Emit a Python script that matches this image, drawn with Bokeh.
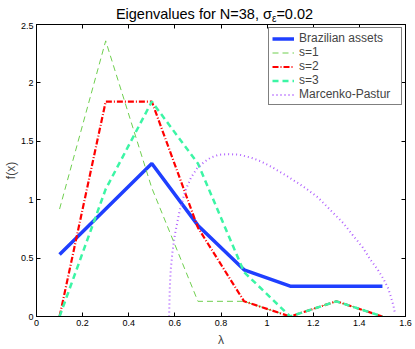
from bokeh.plotting import figure
from bokeh.models import Range1d, LinearAxis, FixedTicker, Legend, LegendItem, Div
from bokeh.layouts import column
from bokeh.embed import file_html
from bokeh.resources import INLINE

# ---- data ----
lam = [0.1, 0.3, 0.5, 0.7, 0.9, 1.1, 1.3, 1.5]
brazil = [0.53, 0.92, 1.31, 0.78, 0.40, 0.26, 0.26, 0.26]
s1 = [0.92, 2.36, 1.10, 0.13, 0.13, 0.0, 0.13, 0.0]
s2 = [0.0, 1.84, 1.84, 0.76, 0.13, 0.0, 0.13, 0.0]
s3 = [0.0, 1.09, 1.84, 1.31, 0.38, 0.0, 0.13, 0.0]

mp_lam = [0.575, 0.578, 0.582, 0.59, 0.6, 0.62, 0.646, 0.67, 0.697, 0.725, 0.755, 0.79,
          0.834, 0.88, 0.93, 0.971, 1.02, 1.08, 1.159, 1.22, 1.275, 1.33, 1.376, 1.415,
          1.448, 1.48, 1.506, 1.525, 1.538, 1.548, 1.553]
mp_f = [0.0, 0.25, 0.40, 0.56, 0.70, 0.90, 1.08, 1.19, 1.27, 1.32, 1.36, 1.385,
        1.39, 1.385, 1.36, 1.33, 1.28, 1.21, 1.11, 1.02, 0.91, 0.80, 0.685, 0.59,
        0.486, 0.40, 0.316, 0.24, 0.16, 0.09, 0.04]

x_ticks = [0, 0.2, 0.4, 0.6, 0.8, 1.0, 1.2, 1.4, 1.6]
x_tick_labels = ["0", "0.2", "0.4", "0.6", "0.8", "1", "1.2", "1.4", "1.6"]
y_ticks = [0, 0.5, 1.0, 1.5, 2.0, 2.5]
y_tick_labels = ["0", "0.5", "1", "1.5", "2", "2.5"]

title_html = "Eigenvalues for N=38, σ<sub style='font-size:10px;vertical-align:-3px'>ε</sub>=0.02"
x_label = "λ"
y_label = "f(x)"

FONT = "Liberation Sans"

title_div = Div(text=title_html, width=415, height=22, margin=0,
                styles={"font-family": FONT, "font-size": "14.5px", "line-height": "20px",
                        "text-align": "center", "padding-left": "14px", "padding-right": "0px",
                        "padding-top": "4px",
                        "box-sizing": "border-box", "color": "black", "white-space": "nowrap"})

p = figure(width=415, height=327, x_range=Range1d(0, 1.6), y_range=Range1d(0, 2.5),
           output_backend="svg", toolbar_location=None,
           min_border_left=36, min_border_right=10, min_border_top=2, min_border_bottom=32)
p.xgrid.visible = False
p.ygrid.visible = False
p.outline_line_color = "black"
p.outline_line_width = 1
p.background_fill_color = "white"
p.border_fill_color = "white"

def style_axis(ax, ticks, labels, show_labels=True, standoff=3):
    ax.ticker = FixedTicker(ticks=ticks)
    ax.major_tick_in = 4
    ax.major_tick_out = 0
    ax.minor_tick_line_color = None
    ax.axis_line_color = "black"
    ax.major_tick_line_color = "black"
    ax.major_label_text_font = FONT
    if show_labels:
        ax.major_label_overrides = {t: l for t, l in zip(ticks, labels)}
        ax.major_label_text_font_size = "9px"
        ax.major_label_text_color = "black"
        ax.major_label_standoff = standoff
    else:
        ax.major_label_text_color = None
        ax.major_label_text_font_size = "1px"
        ax.major_label_standoff = 0

style_axis(p.xaxis[0], x_ticks, x_tick_labels, True, 3)
style_axis(p.yaxis[0], y_ticks, y_tick_labels, True, 3)

p.xaxis[0].axis_label = x_label
p.xaxis[0].axis_label_text_font = FONT
p.xaxis[0].axis_label_text_font_size = "12px"
p.xaxis[0].axis_label_text_font_style = "normal"
p.xaxis[0].axis_label_standoff = 4
p.yaxis[0].axis_label = y_label
p.yaxis[0].axis_label_text_font = FONT
p.yaxis[0].axis_label_text_font_size = "12px"
p.yaxis[0].axis_label_text_font_style = "normal"
p.yaxis[0].axis_label_standoff = 0

top_ax = LinearAxis()
style_axis(top_ax, x_ticks, x_tick_labels, False)
p.add_layout(top_ax, "above")
right_ax = LinearAxis()
style_axis(right_ax, y_ticks, y_tick_labels, False)
p.add_layout(right_ax, "right")

r_b = p.line(lam, brazil, line_color="#1f3fff", line_width=3.5)
r_1 = p.line(lam, s1, line_color="#6fcf4f", line_width=1, line_dash="6 4")
r_2 = p.line(lam, s2, line_color="#ff0000", line_width=2.2, line_dash="6 2 1 2")
r_3 = p.line(lam, s3, line_color="#3cf5a5", line_width=2.5, line_dash="6 4")
r_mp = p.line(mp_lam, mp_f, line_color="#b060ff", line_width=2, line_dash="1 3")

legend = Legend(items=[
    LegendItem(label="Brazilian assets", renderers=[r_b]),
    LegendItem(label="s=1", renderers=[r_1]),
    LegendItem(label="s=2", renderers=[r_2]),
    LegendItem(label="s=3", renderers=[r_3]),
    LegendItem(label="Marcenko-Pastur", renderers=[r_mp]),
], location="top_right")
legend.label_text_font = FONT
legend.label_text_font_size = "12px"
legend.label_height = 13
legend.label_width = 99
legend.glyph_height = 13
legend.glyph_width = 22
legend.spacing = 0
legend.padding = 3
legend.margin = 3
legend.label_standoff = 5
legend.border_line_color = "black"
legend.border_line_width = 1
legend.background_fill_color = "white"
legend.background_fill_alpha = 1.0
p.add_layout(legend)

layout = column(title_div, p, spacing=0)
open("out.html", "w").write(file_html(layout, INLINE))
